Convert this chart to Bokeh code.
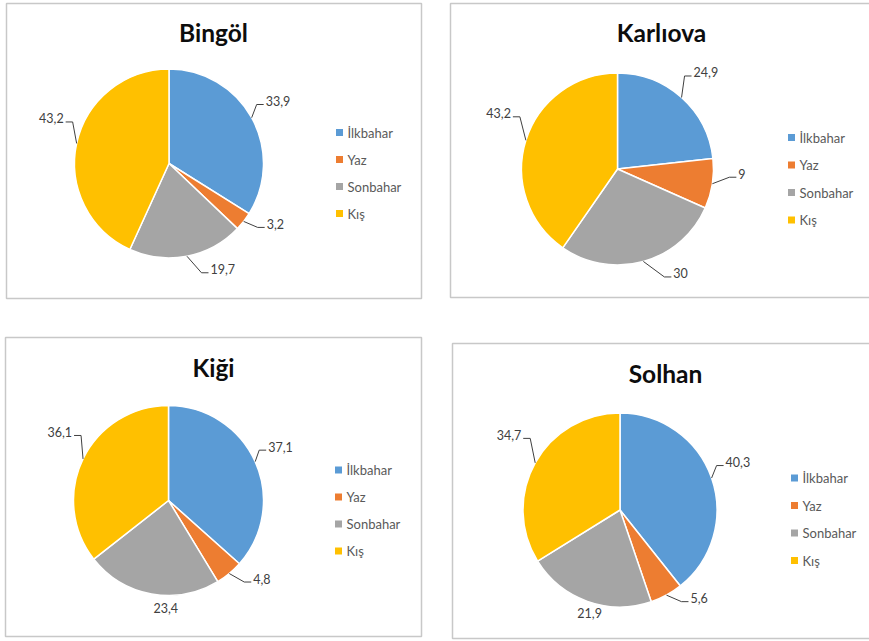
import math
from bokeh.plotting import figure
from bokeh.models import Range1d, ColumnDataSource
from bokeh.core.properties import value
from bokeh.embed import file_html
from bokeh.resources import INLINE

W, H = 869, 641

# ---------------- data ----------------
seasons = ["İlkbahar", "Yaz", "Sonbahar", "Kış"]
stations = ["Bingöl", "Karlıova", "Kiği", "Solhan"]
bingol = [33.9, 3.2, 19.7, 43.2]
karliova = [24.9, 9, 30, 43.2]
kigi = [37.1, 4.8, 23.4, 36.1]
solhan = [40.3, 5.6, 21.9, 34.7]
series = [bingol, karliova, kigi, solhan]

# ---------------- style / layout ----------------
colors = ["#5B9BD5", "#ED7D31", "#A5A5A5", "#FFC000"]
FONT = "Lato"

# positions in screen pixels (y measured downward)
LAYOUT = [
    dict(box=(6, 3, 421, 298), title=(213, 32), center=(168.5, 163), r=94.5,
         legend=(339, 132, 27),
         label_off=[(14, -16.7), (23, 2.5), (23.5, 13), (-13, -25)],
         leader=[True, True, True, True]),
    dict(box=(450, 3, 885, 297), title=(661, 32), center=(617, 168.5), r=96,
         legend=(791, 137, 27.5),
         label_off=[(12, -25), (26, -10), (30, 12), (-15, -27)],
         leader=[True, True, True, True]),
    dict(box=(5, 337, 421, 636), title=(213, 367), center=(168, 500), r=95,
         legend=(338, 469.5, 27),
         label_off=[(13, -15), (24, 5), (2, 14.5), (-11, -27)],
         leader=[True, True, False, True]),
    dict(box=(452, 343, 885, 638), title=(665, 373), center=(619.5, 509.5), r=97,
         legend=(794, 477.5, 27.5),
         label_off=[(14, -16), (24, 3), (-10, 12), (-14, -28)],
         leader=[True, True, False, True]),
]


def Y(y):
    return H - y


def fmt(v):
    return f"{v:g}".replace(".", ",")


p = figure(width=W, height=H, x_range=Range1d(0, W), y_range=Range1d(0, H),
           output_backend="svg", toolbar_location=None, min_border=0,
           x_axis_location=None, y_axis_location=None)
p.grid.visible = False
p.outline_line_color = None
p.background_fill_color = "white"
p.border_fill_color = "white"

lead_xs, lead_ys = [], []
lab_x, lab_y, lab_t, lab_a = [], [], [], []

for name, vals, lay in zip(stations, series, LAYOUT):
    x0, y0, x1, y1 = lay["box"]
    p.quad(left=[x0], right=[x1], top=[Y(y0)], bottom=[Y(y1)],
           fill_color="white", line_color="#c8c8c8", line_width=1.5)

    total = sum(vals)
    cum = [0.0]
    for v in vals:
        cum.append(cum[-1] + v / total)
    cx, cy = lay["center"]
    r = lay["r"]
    src = ColumnDataSource(dict(
        start=[math.pi / 2 - 2 * math.pi * c for c in cum[:-1]],
        end=[math.pi / 2 - 2 * math.pi * c for c in cum[1:]],
        color=colors, season=seasons, val=vals))
    p.wedge(x=cx, y=Y(cy), radius=r, start_angle="start", end_angle="end",
            direction="clock", fill_color="color", line_color="white",
            line_width=1.5, source=src)

    tx, ty = lay["title"]
    p.text(x=[tx], y=[Y(ty)], text=[name], text_font=value(FONT),
           text_font_style="bold", text_font_size="24.5px", text_align="center",
           text_baseline="middle", text_color="#0d0d0d")

    # data labels with leader lines
    for i, v in enumerate(vals):
        mid = (cum[i] + cum[i + 1]) / 2 * 2 * math.pi
        ex = cx + r * math.sin(mid)
        ey = cy - r * math.cos(mid)
        dx, dy = lay["label_off"][i]
        lx, ly = ex + dx, ey + dy
        has_leader = lay["leader"][i]
        align = "left" if (dx >= 0 or not has_leader) else "right"
        s = 1 if align == "left" else -1
        lab_x.append(lx); lab_y.append(Y(ly)); lab_t.append(fmt(v)); lab_a.append(align)
        if has_leader:
            Lx, Ly = lx - s * 2, ly + 3.5
            Kx = Lx - s * 7
            lead_xs.append([ex, Kx, Lx])
            lead_ys.append([Y(ey), Y(Ly), Y(Ly)])

    # legend
    lgx, lgy, pitch = lay["legend"]
    ys = [Y(lgy + k * pitch) for k in range(len(seasons))]
    p.scatter(x=[lgx] * len(seasons), y=ys, marker="square", size=7,
              fill_color=colors, line_color=None)
    p.text(x=[lgx + 8] * len(seasons), y=ys, text=seasons, text_font=value(FONT),
           text_font_size="13px", text_align="left", text_baseline="middle",
           text_color="#595959")

p.multi_line(xs=lead_xs, ys=lead_ys, line_color="#404040", line_width=1)
lsrc = ColumnDataSource(dict(x=lab_x, y=lab_y, t=lab_t, a=lab_a))
p.text(x="x", y="y", text="t", text_align="a", text_baseline="middle",
       text_font=value(FONT), text_font_size="12.5px", text_color="#404040",
       source=lsrc)

open("out.html", "w").write(file_html(p, INLINE))
